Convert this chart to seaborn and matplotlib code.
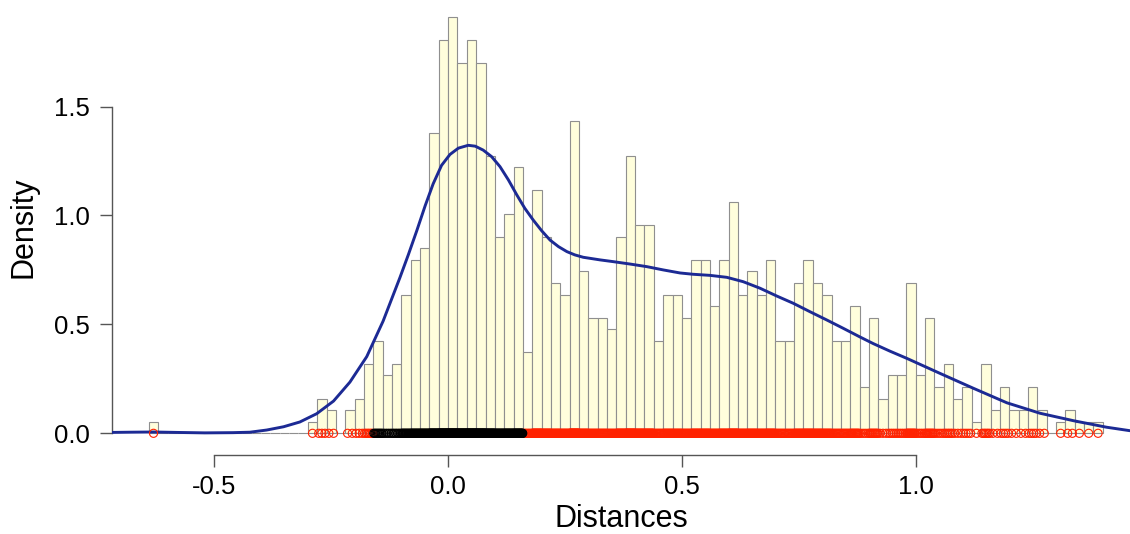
import numpy as np
import pandas as pd
import matplotlib
matplotlib.use("Agg")
import matplotlib.pyplot as plt
import seaborn as sns

# ---- data ----
bin_start = -0.64
bin_width = 0.02
counts = [1, 0, 0, 0, 0, 0, 0, 0, 0, 0, 0, 0, 0, 0, 0, 0, 0,
          1, 3, 2, 0, 2, 3, 6, 8, 5, 6, 12, 15, 16, 26, 34,
          36, 32, 34, 32, 24, 17, 19, 23,
          7, 21, 17, 13, 12, 27, 14,
          10, 10, 9, 17, 24, 18, 18, 8, 12,
          12, 10, 15, 15, 11, 15, 20, 12, 14,
          12, 15, 8, 8, 13, 15, 13, 12, 8,
          8, 11, 4, 10, 3, 5, 5, 13, 5,
          10, 4, 6, 3, 4, 1, 6, 2, 4,
          2, 2, 4, 2, 0, 1, 2, 1, 1, 1]

kde_x = [-0.719, -0.68, -0.63, -0.58, -0.52, -0.46, -0.424, -0.388, -0.352, -0.317,
         -0.281, -0.245, -0.210, -0.174, -0.139, -0.103, -0.085, -0.067, -0.049, -0.032,
         -0.014, 0.004, 0.022, 0.043, 0.058, 0.075, 0.093, 0.111, 0.129, 0.147, 0.164,
         0.182, 0.200, 0.218, 0.236, 0.254, 0.271, 0.289, 0.325, 0.353, 0.389, 0.425,
         0.460, 0.496, 0.524, 0.560, 0.596, 0.631, 0.667, 0.703, 0.738, 0.774, 0.810,
         0.845, 0.881, 0.909, 0.945, 0.981, 1.016, 1.052, 1.123, 1.195, 1.266, 1.337,
         1.408, 1.458]
kde_y = [0.004, 0.005, 0.006, 0.004, 0.002, 0.003, 0.005, 0.015, 0.030, 0.052,
         0.090, 0.148, 0.235, 0.352, 0.515, 0.715, 0.820, 0.930, 1.045, 1.145,
         1.230, 1.280, 1.309, 1.322, 1.318, 1.300, 1.270, 1.224, 1.163, 1.094, 1.033,
         0.979, 0.930, 0.887, 0.857, 0.834, 0.819, 0.808, 0.796, 0.788, 0.777, 0.765,
         0.750, 0.736, 0.730, 0.725, 0.716, 0.696, 0.666, 0.630, 0.597, 0.558, 0.520,
         0.482, 0.442, 0.412, 0.377, 0.344, 0.310, 0.275, 0.207, 0.140, 0.092, 0.058,
         0.028, 0.012]

x_ticks = [-0.5, 0.0, 0.5, 1.0]
x_tick_labels = ["-0.5", "0.0", "0.5", "1.0"]
y_ticks = [0.0, 0.5, 1.0, 1.5]
y_tick_labels = ["0.0", "0.5", "1.0", "1.5"]
x_label = "Distances"
y_label = "Density"
black_limit = 0.16

# ---- derived ----
n_bins = len(counts)
edges = (bin_start + bin_width * np.arange(n_bins + 1)).tolist()
centers = [e + bin_width / 2 for e in edges[:-1]]
hist_df = pd.DataFrame({"x": centers, "w": counts})

rug_x = []
for lo, c in zip(edges[:-1], counts):
    for j in range(c):
        rug_x.append(lo + (j + 0.5) * bin_width / c)
rug_x = np.array(rug_x)
rug_df = pd.DataFrame({"x": rug_x, "y": np.zeros_like(rug_x)})
rug_black = rug_df[np.abs(rug_df["x"]) < black_limit]
rug_red = rug_df[np.abs(rug_df["x"]) >= black_limit]
kde_df = pd.DataFrame({"x": kde_x, "y": kde_y})

# ---- style ----
sns.set_style("ticks")
plt.rcParams["font.family"] = ["Liberation Sans", "DejaVu Sans"]

fig = plt.figure(figsize=(11.3, 5.34), dpi=100)
ax = fig.add_axes([112 / 1130, 79 / 534, 1018 / 1130, 455 / 534])

sns.histplot(data=hist_df, x="x", weights="w", bins=edges, stat="density",
             color="#FFFEDC", edgecolor="#8f8f8f", linewidth=0.8, alpha=1,
             ax=ax, zorder=1)

sns.lineplot(data=kde_df, x="x", y="y", color="#1c2a94", linewidth=2.1,
             ax=ax, zorder=3, sort=True)
ax.lines[-1].set_solid_joinstyle("round")

sns.scatterplot(data=rug_red, x="x", y="y", marker="o", s=34,
                facecolors="none", edgecolor="#ff2200", linewidth=0.8,
                ax=ax, zorder=4, clip_on=False)
sns.scatterplot(data=rug_black, x="x", y="y", marker="o", s=34,
                facecolors="none", edgecolor="black", linewidth=0.8,
                ax=ax, zorder=4, clip_on=False)

ax.set_xlim(-0.7188, 1.4583)
ax.set_ylim(-0.0996, 1.989)

for side in ["top", "right"]:
    ax.spines[side].set_visible(False)
ax.spines["left"].set_bounds(0, 1.5)
ax.spines["bottom"].set_bounds(-0.5, 1.0)
for side in ["left", "bottom"]:
    ax.spines[side].set_color("#555555")
    ax.spines[side].set_linewidth(1.0)

ax.set_xticks(x_ticks)
ax.set_xticklabels(x_tick_labels)
ax.set_yticks(y_ticks)
ax.set_yticklabels(y_tick_labels)
ax.tick_params(axis="both", length=8.6, width=1.0, color="#555555",
               labelsize=18.5, labelcolor="black", direction="out")
ax.tick_params(axis="x", pad=6)
ax.tick_params(axis="y", pad=7)

ax.set_xlabel(x_label, fontsize=22, color="black")
ax.set_ylabel(y_label, fontsize=22, color="black")
ax.xaxis.set_label_coords(0.5, -0.107)
ax.yaxis.set_label_coords(-0.072, 0.5)
ax.xaxis.label.set_va("top")
ax.grid(False)

fig.savefig("out.png", dpi=100)
